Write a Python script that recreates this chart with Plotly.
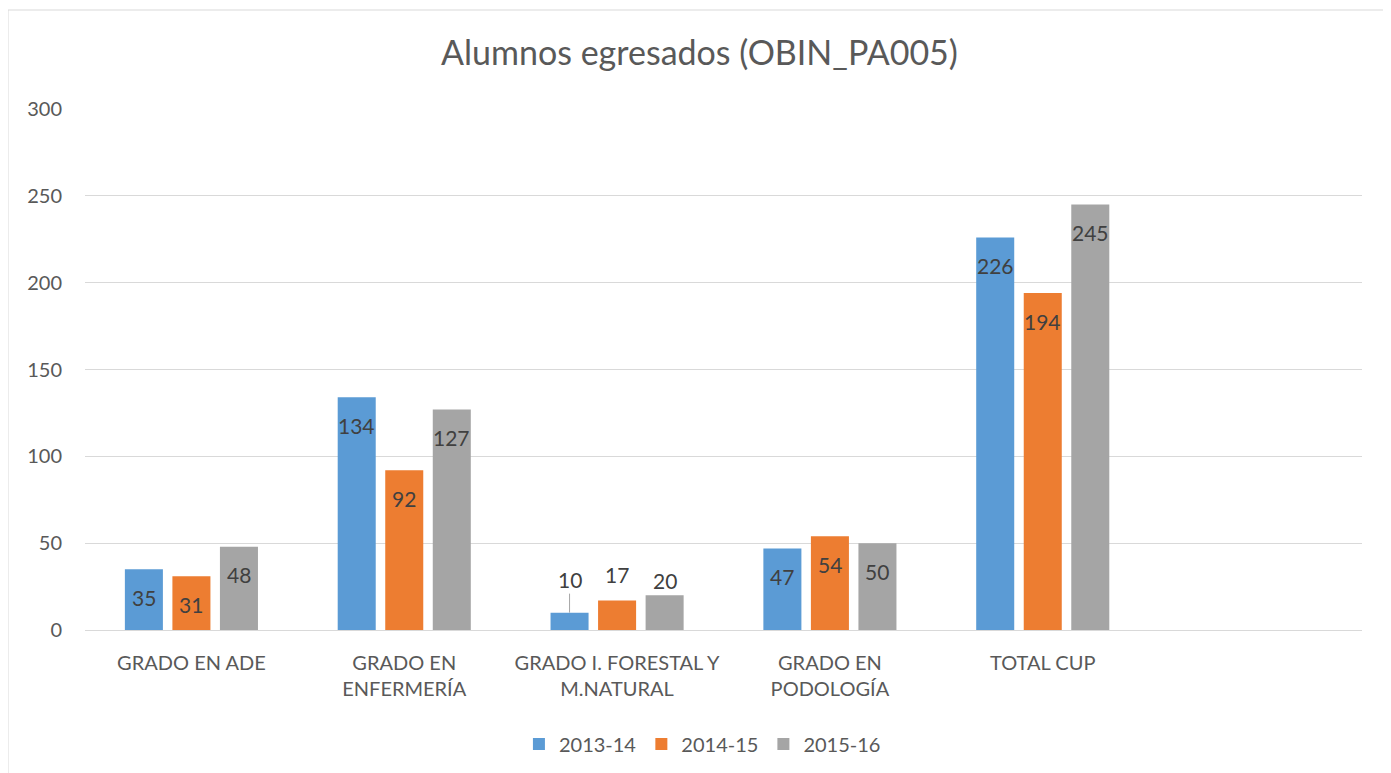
import plotly.graph_objects as go

categorias = ["GRADO EN ADE", "GRADO EN<br>ENFERMERÍA", "GRADO I. FORESTAL Y<br>M.NATURAL",
              "GRADO EN<br>PODOLOGÍA", "TOTAL CUP", " "]
curso_2013_14 = [35, 134, 10, 47, 226, None]
curso_2014_15 = [31, 92, 17, 54, 194, None]
curso_2015_16 = [48, 127, 20, 50, 245, None]

series = [
    ("2013-14", curso_2013_14, "#5B9BD5"),
    ("2014-15", curso_2014_15, "#ED7D31"),
    ("2015-16", curso_2015_16, "#A5A5A5"),
]

BARGAP = 0.33
ancho_hueco = (1 - BARGAP) / len(series)

# etiquetas que Excel coloca por encima de la barra: (serie, categoría) -> px sobre la barra
etiquetas_fuera = {(0, 2): 33, (1, 2): 26, (2, 2): 15}

fig = go.Figure()
for k, (nombre, valores, color) in enumerate(series):
    fig.add_trace(go.Bar(
        name=nombre,
        x=categorias,
        y=valores,
        marker=dict(color=color, line=dict(width=0)),
        hoverinfo="x+y+name",
    ))
    for i, v in enumerate(valores):
        if v is None:
            continue
        xpos = i + (k - 1) * ancho_hueco
        anot = dict(x=xpos, y=v, xref="x", yref="y", text=str(v), showarrow=False,
                    font=dict(size=21, color="#404040"), xanchor="center", yanchor="middle")
        if (k, i) in etiquetas_fuera:
            sube = etiquetas_fuera[(k, i)]
            if sube > 30:
                anot.update(showarrow=True, arrowhead=0, arrowwidth=1, arrowcolor="#A6A6A6",
                            ax=0, ay=-sube)
            else:
                anot.update(yshift=sube)
        else:
            anot.update(yshift=-28)
        fig.add_annotation(**anot)

fig.update_layout(
    width=1383,
    height=765,
    barmode="group",
    bargap=BARGAP,
    bargroupgap=0.2,
    paper_bgcolor="white",
    plot_bgcolor="white",
    font=dict(family="Lato, Carlito, sans-serif", color="#595959"),
    title=dict(text="Alumnos egresados (OBIN_PA005)", x=0.5, xanchor="center",
               y=0.941, yanchor="middle", font=dict(size=34, color="#595959"),
               automargin=False),
    margin=dict(l=77, r=29, t=101, b=143, autoexpand=False),
    legend=dict(orientation="h", x=0.4835, xanchor="center", y=-0.219, yanchor="middle",
                font=dict(size=20, color="#595959"), traceorder="normal"),
    showlegend=True,
)
fig.update_yaxes(range=[0, 300], dtick=50, showgrid=True, gridcolor="#D9D9D9", gridwidth=1,
                 zeroline=False, showline=False, tickfont=dict(size=20, color="#595959"),
                 ticklabelstandoff=22, automargin=False)
fig.update_xaxes(showline=True, linecolor="#D9D9D9", linewidth=1,
                 tickfont=dict(size=20, color="#595959"), ticks="", ticklabelstandoff=15,
                 automargin=False)

# borde del área del gráfico
fig.add_shape(type="rect", xref="paper", yref="paper", x0=-0.0603, x1=1.0219, y0=-0.3, y1=1.19,
              line=dict(color="#D9D9D9", width=1), layer="below")

fig.write_html("out.html")
